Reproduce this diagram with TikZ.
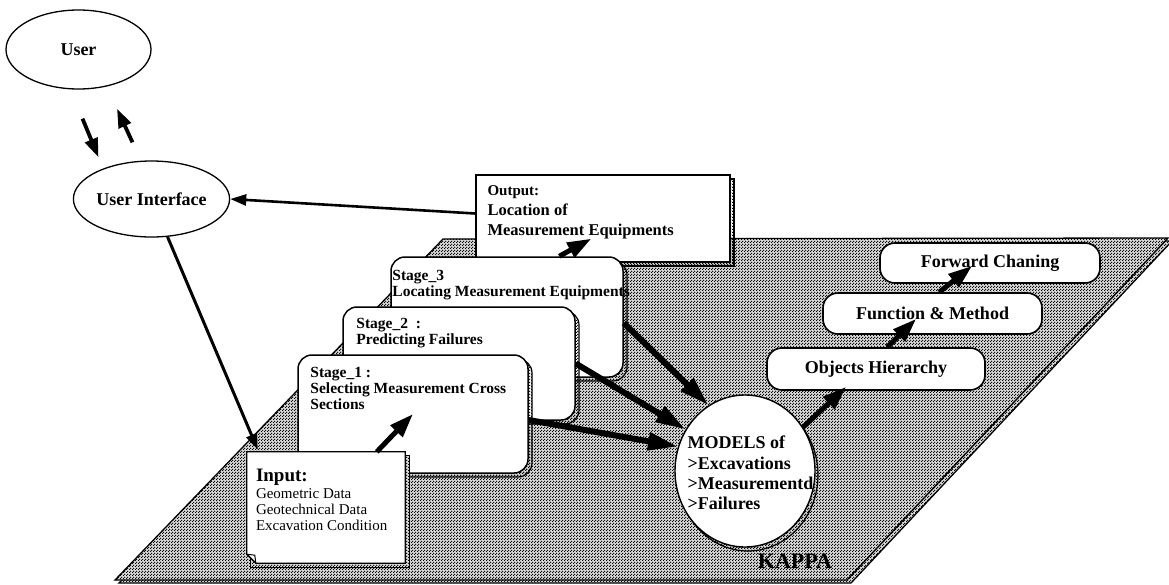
\documentclass[tikz,border=0pt]{standalone}
\usepackage{fontspec}
\setmainfont{Liberation Serif}
\usetikzlibrary{arrows.meta,calc,shapes.geometric,patterns,shadows}

% fine dot screen used for the KAPPA plane and the shadows
\pgfdeclarepatternformonly{kappadots}{\pgfqpoint{0pt}{0pt}}{\pgfqpoint{3pt}{3pt}}{\pgfqpoint{3pt}{3pt}}{%
  \pgfpathcircle{\pgfqpoint{0.75pt}{0.75pt}}{0.9pt}%
  \pgfpathcircle{\pgfqpoint{2.25pt}{2.25pt}}{0.9pt}%
  \pgfusepath{fill}}

\begin{document}
\begin{tikzpicture}[x=1pt,y=-1pt,
  every node/.style={inner sep=0pt},
  screen/.style={pattern=kappadots, preaction={fill=black!15}},
  dotshadow/.style={general shadow={shadow xshift=4pt, shadow yshift=-4pt,
      draw=black, line width=1.2pt, screen}},
  bigfont/.style={font=\bfseries\fontsize{18}{20}\selectfont},
  oval/.style={ellipse, draw, line width=1.3pt, fill=white, bigfont},
  stagebox/.style={draw, line width=1.5pt, fill=white, rounded corners=14pt,
      dotshadow},
  outbox/.style={draw, line width=1.3pt, fill=white, dotshadow},
  pill/.style={draw, line width=1.6pt, fill=white, rounded corners=15pt, bigfont},
  stagetext/.style={anchor=north west, align=left,
      font=\bfseries\fontsize{15.5}{16}\selectfont},
  arrA/.style={line width=3.8pt, -{Triangle[length=19pt,width=13pt]}},
  arrB/.style={line width=2.6pt, -{Triangle[length=16pt,width=11pt]}},
  arrC/.style={line width=3pt, -{Triangle[length=16pt,width=11pt]}},
  arrD/.style={line width=5pt, -{Triangle[length=24pt,width=16pt]}},
  arrE/.style={line width=6pt, -{Triangle[length=30pt,width=17pt]}},
]
\useasboundingbox (0,0) rectangle (1169,584);

% ---- KAPPA plane with its offset shadow ----
\draw[line width=1.3pt, screen]
  (119,583) -- (851,583) -- (1172,241) -- (447,242) -- cycle;
\draw[line width=1.3pt, screen]
  (115,580) -- (847,580) -- (1168,238) -- (443,239) -- cycle;

% ---- output box ----
\node[outbox, minimum width=254pt, minimum height=87pt] (out) at (603,218.5) {};
\node[anchor=north west, align=left, font=\bfseries\fontsize{16.5}{20}\selectfont]
  (outtext) at ($(out.north west)+(12,11)$)
  {{\fontsize{15}{20}\selectfont Output:}\\Location of\\Measurement Equipments};

% ---- stage boxes, back to front ----
\node[stagebox, minimum width=232pt, minimum height=120pt] (s3) at (507,317) {};
\node[stagetext] (s3text) at ($(s3.north west)+(2,14)$)
  {Stage\_3\\Locating Measurement Equipments};

\node[stagebox, minimum width=232pt, minimum height=113pt] (s2) at (459,363.5) {};
\node[stagetext] (s2text) at ($(s2.north west)+(14,12)$)
  {Stage\_2\ \ :\\Predicting Failures};

\node[stagebox, minimum width=230pt, minimum height=118pt] (s1) at (413,414) {};
\node[stagetext] (s1text) at ($(s1.north west)+(13,13)$)
  {Stage\_1 :\\Selecting Measurement Cross\\Sections};

% ---- input sheet with folded corner ----
\node[minimum width=158pt, minimum height=111pt] (inp) at (326,507.5) {};
\draw[line width=1.2pt, screen]
  ($(inp.north west)+(4,4)$) rectangle ($(inp.south east)+(4,4)$);
\draw[line width=1.3pt, fill=white]
  (inp.north west) -- (inp.north east) -- (inp.south east)
  -- ($(inp.south west)+(9,0)$) -- ($(inp.south west)+(0,-9)$) -- cycle;
\draw[line width=1pt] ($(inp.south west)+(0,-9)$) -- ($(inp.south west)+(8,-8)$)
  -- ($(inp.south west)+(9,0)$);
\node[anchor=north west, align=left, font=\fontsize{15}{16}\selectfont]
  (inptext) at ($(inp.north west)+(9,17)$)
  {{\bfseries\fontsize{19}{19}\selectfont Input:}\\[1pt]Geometric Data\\Geotechnical Data\\Excavation Condition};

% ---- models ----
\node[ellipse, draw, line width=1.4pt, fill=white, minimum width=140pt,
  minimum height=152pt,
  general shadow={shadow xshift=3pt, shadow yshift=-4pt, draw=black,
      line width=1.2pt, screen}] (models) at (745,471) {};
\node[anchor=north west, align=left, font=\bfseries\fontsize{18}{20.3}\selectfont]
  (modtext) at ($(models.west)+(13,-35)$)
  {MODELS of\\>Excavations\\>Measurementd\\>Failures};

% ---- KAPPA object layers ----
\node[pill, minimum width=218pt, minimum height=42pt] (obj) at (876,369) {Objects Hierarchy};
\node[pill, minimum width=219pt, minimum height=41pt] (fun) at (932.5,313.5) {Function \& Method};
\node[pill, minimum width=220pt, minimum height=40pt] (fwd) at (990,263) {Forward Chaning};

\node[font=\bfseries\fontsize{22}{22}\selectfont] (kappa) at (795,561) {KAPPA};

% ---- user side ----
\node[oval, minimum width=145pt, minimum height=79pt] (user) at (78.5,49.5) {User};
\node[oval, minimum width=149pt, minimum height=76pt] (ui) at (151.5,199) {User Interface};

% ---- connectors ----
\draw[arrA] ($(user.south)+(4,29)$) -- ($(ui.north)+(-53,-3)$);
\draw[arrA] ($(ui.north)+(-19,-18)$) -- ($(user.south)+(38.5,19)$);
\draw[arrB] ([yshift=5pt]out.west) -- (ui.east);
\draw[arrC] (ui) -- ($(inp.north west)+(11,-2)$);
\draw[arrD] ($(inp.north west)+(130,0)$) -- (s1.center);
\draw[arrD] ($(s3.north west)+(169,0)$) -- ($(out.south west)+(116,-24)$);
\draw[arrE] ($(s1.east)+(0,6)$) -- (models.160);
\draw[arrE] (s2.east) -- (models.145);
\draw[arrE] ($(s3.east)+(0,6)$) -- (models.119);
\draw[arrD] (models.37) -- ($(obj.south west)+(80,-4)$);
\draw[arrD] ($(obj.north west)+(121,0)$) -- ($(fun.south west)+(94,-16)$);
\draw[arrD] ($(fun.north west)+(117,0)$) -- ($(fwd.south west)+(93,-18)$);
\end{tikzpicture}
\end{document}
